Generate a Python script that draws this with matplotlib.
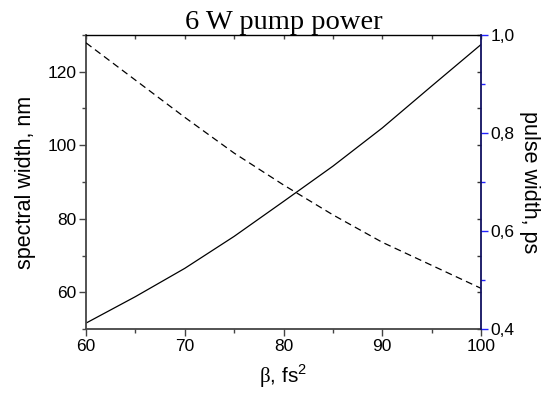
import matplotlib
matplotlib.use("Agg")
import matplotlib.pyplot as plt
from matplotlib.ticker import MultipleLocator, FuncFormatter

beta = [60, 65, 70, 75, 80, 85, 90, 95, 100]
spectral_width = [51.6, 58.8, 66.5, 75.2, 84.7, 94.3, 104.7, 116.1, 127.4]
pulse_width = [0.984, 0.908, 0.832, 0.759, 0.694, 0.633, 0.577, 0.530, 0.483]

plt.rcParams['font.family'] = ['Liberation Sans', 'DejaVu Sans']
plt.rcParams['mathtext.fontset'] = 'custom'
plt.rcParams['mathtext.rm'] = 'Liberation Serif'
plt.rcParams['mathtext.sf'] = 'Liberation Sans'

fig = plt.figure(figsize=(5.42, 3.96), dpi=100)
ax = fig.add_axes([86/542, 1-329/396, (481-86)/542, (329-35)/396])
ax2 = ax.twinx()

ax.plot(beta, spectral_width, color='black', lw=0.9)
ax2.plot(beta, pulse_width, color='black', lw=0.9, ls=(0, (5.5, 3.5)))

ax.set_xlim(60, 100)
ax.set_ylim(50, 130)
ax2.set_ylim(0.4, 1.0)

ax.xaxis.set_major_locator(MultipleLocator(10))
ax.xaxis.set_minor_locator(MultipleLocator(5))
ax.yaxis.set_major_locator(MultipleLocator(20))
ax.yaxis.set_minor_locator(MultipleLocator(10))
ax2.yaxis.set_major_locator(MultipleLocator(0.2))
ax2.yaxis.set_minor_locator(MultipleLocator(0.1))
ax2.yaxis.set_major_formatter(FuncFormatter(lambda v, p: f"{v:.1f}".replace('.', ',')))

grey = '#444444'
fs_tick = 12.5
ax.tick_params(axis='x', which='both', direction='out', top=False, colors=grey, labelcolor='black', labelsize=fs_tick, pad=2)
ax.tick_params(axis='x', which='major', length=5, width=1)
ax.tick_params(axis='x', which='minor', length=3, width=1)
ax.tick_params(axis='y', which='both', direction='out', colors=grey, labelcolor='black', labelsize=fs_tick, pad=2)
ax.tick_params(axis='y', which='major', length=5, width=1)
ax.tick_params(axis='y', which='minor', length=3, width=1)

ax2.tick_params(axis='y', which='both', direction='out', colors='#2020ff', labelcolor='black', labelsize=fs_tick, pad=2)
ax2.tick_params(axis='y', which='major', length=5, width=1)
ax2.tick_params(axis='y', which='minor', length=3, width=1)

# mirrored inward ticks on top
top = ax.secondary_xaxis('top')
top.xaxis.set_major_locator(MultipleLocator(5))
top.tick_params(axis='x', direction='in', length=3, width=1, labeltop=False, colors=grey)
top.spines['top'].set_visible(False)

# mirrored inward ticks of left axis on the right
rmir = ax.secondary_yaxis('right')
rmir.yaxis.set_major_locator(MultipleLocator(10))
rmir.tick_params(axis='y', direction='in', length=3, width=1, labelright=False, colors='#333333')
rmir.spines['right'].set_visible(False)

for s in ['left', 'bottom']:
    ax.spines[s].set_color(grey)
    ax.spines[s].set_linewidth(1.3)
ax.spines['top'].set_color('black')
ax.spines['top'].set_linewidth(1.0)
ax.spines['right'].set_visible(False)
ax2.spines['right'].set_color('#101060')
ax2.spines['right'].set_linewidth(1.3)
for s in ['left', 'bottom', 'top']:
    ax2.spines[s].set_visible(False)

ax.set_xlabel(r'$\mathrm{\beta}$, fs$^{\mathsf{2}}$', fontsize=15, labelpad=6)
ax.set_ylabel('spectral width, nm', fontsize=15.5, labelpad=8)
ax2.set_ylabel('pulse width, ps', fontsize=15.5, rotation=270, labelpad=18)
ax.set_title('6 W pump power', fontsize=20.5, family='Liberation Serif', pad=4)

fig.savefig('out.png', dpi=100)
